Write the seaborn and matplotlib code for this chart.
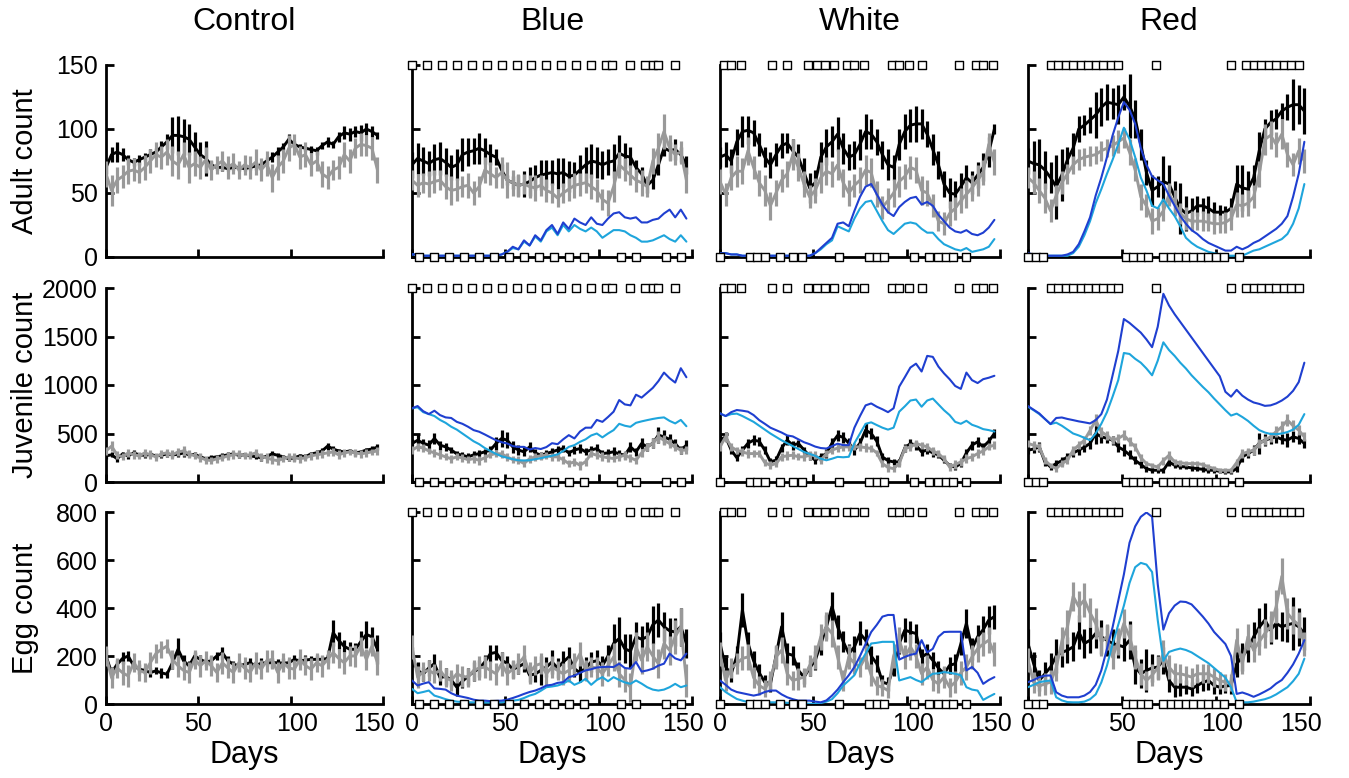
import matplotlib
matplotlib.use("Agg")
import matplotlib.pyplot as plt
import matplotlib.transforms as mtransforms
import seaborn as sns
import numpy as np
import pandas as pd

# sampling days (every 3 days)
days = np.arange(0, 150, 3)

columns = ["Control", "Blue", "White", "Red"]
row_labels = ["Adult count", "Juvenile count", "Egg count"]
row_max = [150, 2000, 800]
row_ticks = [[0, 50, 100, 150], [0, 500, 1000, 1500, 2000], [0, 200, 400, 600, 800]]

# ---------------- adult ----------------
adult_control_black = [70, 80, 82, 80, 76, 74, 76, 78, 80, 82, 86, 90, 95, 95, 94, 92, 86, 80, 77, 72,
                       70, 70, 69, 70, 70, 69, 70, 71, 72, 75, 78, 82, 86, 92, 88, 86, 85, 84, 83, 87,
                       90, 88, 94, 97, 96, 98, 97, 100, 98, 95]
adult_control_black_err = [5, 6, 8, 5, 4, 3, 4, 3, 4, 3, 5, 6, 14, 15, 14, 12, 12, 10, 14, 3,
                           2, 3, 2, 2, 3, 2, 2, 3, 2, 3, 4, 4, 3, 4, 3, 2, 2, 3, 3, 3,
                           4, 3, 4, 5, 5, 4, 6, 5, 4, 3]
adult_control_gray = [65, 52, 60, 63, 67, 68, 66, 70, 75, 80, 78, 82, 75, 72, 80, 70, 73, 70, 76, 68,
                      72, 75, 70, 73, 68, 72, 70, 74, 68, 73, 62, 70, 75, 85, 88, 78, 80, 72, 75, 65,
                      62, 68, 70, 80, 75, 85, 88, 87, 85, 68]
adult_control_gray_err = [10, 12, 10, 9, 10, 9, 8, 10, 9, 10, 9, 10, 12, 11, 10, 12, 10, 9, 10, 8,
                          7, 8, 9, 8, 7, 8, 9, 10, 9, 10, 11, 10, 9, 10, 8, 9, 10, 9, 8, 10,
                          9, 8, 9, 10, 9, 8, 9, 8, 9, 10]

adult_blue_black = [72, 77, 75, 73, 76, 77, 74, 70, 72, 80, 82, 83, 85, 83, 80, 78, 68, 60, 58, 56,
                    57, 59, 62, 64, 65, 66, 65, 66, 63, 64, 68, 72, 75, 74, 72, 74, 75, 81, 79, 78,
                    70, 65, 56, 60, 72, 85, 83, 84, 80, 72]
adult_blue_black_err = [10, 12, 11, 10, 12, 13, 11, 10, 12, 13, 11, 10, 12, 10, 8, 6, 5, 4, 5, 8,
                        10, 11, 10, 12, 11, 10, 12, 11, 12, 10, 12, 14, 13, 12, 11, 10, 13, 14, 10, 8,
                        6, 5, 6, 7, 8, 6, 7, 8, 6, 7]
adult_blue_gray = [60, 56, 58, 57, 59, 60, 55, 52, 53, 55, 56, 50, 55, 68, 65, 62, 66, 60, 58, 56,
                   57, 55, 54, 56, 52, 50, 46, 50, 53, 56, 57, 58, 55, 52, 45, 42, 55, 72, 68, 64,
                   60, 58, 55, 75, 85, 98, 85, 80, 82, 60]
adult_blue_gray_err = [8, 9, 8, 10, 9, 8, 10, 11, 9, 8, 10, 9, 8, 10, 9, 8, 12, 14, 10, 9,
                       8, 9, 10, 8, 9, 8, 7, 8, 9, 10, 9, 8, 10, 9, 8, 10, 12, 10, 9, 8,
                       9, 10, 8, 10, 12, 14, 10, 8, 9, 10]
adult_blue_model = [2, 2, 1, 1, 1, 1, 1, 1, 1, 1, 1, 1, 1, 1, 1, 1, 2, 4, 8, 6,
                    13, 9, 17, 13, 21, 25, 18, 27, 22, 30, 27, 25, 31, 26, 25, 30, 34, 35, 31, 30,
                    31, 27, 27, 29, 30, 34, 37, 31, 37, 30]
adult_blue_model2 = [2, 2, 1, 1, 1, 1, 1, 1, 1, 1, 1, 1, 1, 1, 1, 1, 2, 4, 7, 6,
                     12, 9, 16, 12, 20, 23, 17, 25, 20, 25, 22, 20, 23, 20, 15, 18, 21, 21, 20, 17,
                     15, 12, 12, 13, 15, 17, 14, 12, 17, 12]

adult_white_black = [78, 80, 75, 90, 98, 99, 97, 88, 78, 72, 80, 87, 89, 83, 78, 66, 54, 58, 78, 86,
                     90, 96, 85, 78, 80, 88, 98, 96, 90, 80, 72, 70, 88, 98, 103, 104, 104, 96, 84, 72,
                     57, 50, 49, 55, 62, 58, 64, 70, 82, 100]
adult_white_black_err = [8, 10, 9, 10, 12, 11, 10, 9, 8, 10, 9, 10, 8, 9, 10, 11, 12, 10, 12, 14,
                         12, 13, 12, 10, 11, 12, 14, 12, 10, 11, 12, 10, 12, 14, 13, 14, 12, 10, 12, 11,
                         10, 12, 10, 11, 10, 9, 10, 11, 12, 4]
adult_white_gray = [59, 49, 62, 67, 67, 83, 70, 58, 52, 40, 50, 60, 65, 80, 70, 57, 47, 52, 62, 67,
                    65, 72, 58, 50, 56, 60, 68, 66, 49, 39, 44, 50, 59, 63, 70, 68, 52, 50, 40, 28,
                    26, 34, 38, 44, 49, 54, 60, 66, 88, 74]
adult_white_gray_err = [10, 9, 10, 12, 10, 11, 9, 10, 12, 11, 10, 9, 10, 12, 11, 10, 9, 10, 12, 11,
                        10, 12, 11, 10, 9, 10, 12, 11, 10, 9, 10, 11, 12, 10, 9, 10, 11, 10, 9, 8,
                        9, 10, 9, 10, 11, 10, 12, 10, 9, 10]
adult_white_model = [3, 3, 2, 2, 1, 1, 1, 1, 1, 1, 1, 1, 1, 1, 1, 1, 1, 3, 7, 11,
                     15, 26, 27, 24, 36, 47, 55, 57, 49, 41, 35, 32, 39, 43, 46, 47, 41, 43, 40, 33,
                     28, 23, 20, 19, 21, 18, 17, 19, 23, 29]
adult_white_model2 = [3, 3, 2, 2, 1, 1, 1, 1, 1, 1, 1, 1, 1, 1, 1, 1, 1, 3, 6, 10,
                      13, 24, 22, 20, 30, 38, 43, 44, 36, 28, 21, 18, 22, 26, 27, 26, 22, 19, 19, 14,
                      10, 8, 6, 5, 7, 4, 5, 6, 8, 14]

adult_red_black = [75, 73, 72, 68, 62, 55, 64, 76, 85, 100, 103, 107, 111, 117, 121, 120, 119, 125, 118, 108,
                   88, 66, 52, 55, 59, 57, 47, 38, 34, 36, 40, 40, 38, 35, 35, 35, 38, 57, 54, 53,
                   62, 83, 100, 105, 108, 114, 117, 119, 119, 114]
adult_red_black_err = [10, 18, 20, 15, 12, 25, 20, 10, 12, 10, 8, 10, 18, 15, 14, 12, 15, 10, 25, 15,
                       12, 10, 12, 8, 20, 15, 12, 20, 14, 10, 8, 6, 10, 8, 6, 5, 8, 15, 18, 14,
                       10, 15, 8, 10, 8, 6, 10, 20, 15, 18]
adult_red_gray = [62, 58, 52, 46, 36, 48, 58, 65, 72, 76, 78, 79, 80, 83, 85, 87, 90, 93, 82, 68,
                  47, 40, 28, 30, 36, 49, 42, 34, 30, 28, 28, 28, 27, 26, 26, 27, 30, 41, 40, 42,
                  47, 65, 92, 95, 88, 96, 80, 72, 83, 75]
adult_red_gray_err = [8, 9, 10, 12, 9, 8, 9, 8, 7, 8, 7, 8, 7, 8, 7, 8, 9, 8, 10, 9,
                      10, 9, 10, 9, 8, 9, 10, 8, 9, 8, 7, 8, 7, 8, 7, 8, 9, 10, 9, 10,
                      9, 10, 12, 11, 10, 12, 10, 9, 10, 9]
adult_red_model = [3, 2, 1, 1, 1, 1, 1, 2, 4, 10, 20, 31, 48, 62, 78, 95, 109, 121, 115, 104,
                   85, 72, 63, 60, 57, 48, 40, 32, 26, 21, 18, 14, 11, 9, 7, 5, 5, 8, 6, 8,
                   11, 13, 16, 19, 22, 26, 32, 47, 65, 90]
adult_red_model2 = [2, 1, 1, 1, 1, 1, 1, 1, 3, 8, 17, 28, 42, 53, 65, 76, 88, 101, 92, 78,
                    62, 52, 40, 38, 45, 38, 32, 24, 15, 11, 8, 6, 4, 3, 2, 1, 1, 1, 1, 3,
                    5, 6, 8, 10, 12, 14, 18, 26, 38, 57]

# ---------------- juvenile ----------------
juv_control_black = [270, 280, 240, 290, 270, 300, 280, 275, 285, 270, 275, 290, 280, 285, 300, 280, 285, 260, 240, 250,
                     260, 270, 280, 290, 275, 280, 270, 260, 250, 265, 290, 275, 260, 240, 250, 270, 260, 290, 300, 320,
                     370, 340, 320, 310, 320, 300, 310, 330, 340, 360]
juv_control_black_err = [30, 25, 35, 20, 30, 25, 20, 30, 25, 20, 25, 30, 20, 25, 40, 25, 20, 25, 20, 25,
                         20, 25, 30, 20, 25, 20, 25, 20, 30, 25, 30, 25, 20, 25, 30, 20, 25, 20, 25, 30,
                         35, 30, 25, 20, 25, 30, 25, 20, 30, 35]
juv_control_gray = [320, 370, 280, 260, 300, 280, 270, 300, 280, 260, 290, 300, 280, 310, 320, 290, 270, 250, 230, 220,
                    240, 250, 270, 280, 290, 270, 280, 300, 260, 250, 230, 220, 240, 260, 250, 240, 250, 270, 280, 290,
                    300, 310, 280, 300, 310, 300, 290, 300, 310, 320]
juv_control_gray_err = [40, 50, 40, 35, 45, 40, 35, 40, 45, 40, 35, 40, 45, 40, 50, 40, 35, 45, 40, 35,
                        40, 35, 40, 45, 40, 35, 40, 45, 40, 50, 45, 40, 35, 40, 45, 40, 35, 40, 45, 40,
                        35, 40, 45, 40, 35, 40, 45, 40, 35, 40]

juv_blue_black = [397, 430, 400, 380, 449, 380, 362, 330, 290, 276, 259, 280, 293, 311, 328, 397, 449, 431, 362, 330,
                  311, 362, 300, 276, 293, 311, 330, 345, 300, 330, 345, 311, 330, 345, 293, 300, 311, 290, 276, 362,
                  311, 397, 362, 400, 483, 466, 440, 397, 328, 380]
juv_blue_black_err = [50, 60, 45, 50, 55, 45, 40, 35, 30, 30, 35, 40, 35, 30, 45, 70, 90, 80, 60, 50,
                      45, 55, 40, 35, 40, 35, 45, 40, 35, 40, 45, 35, 40, 45, 35, 40, 45, 40, 35, 50,
                      40, 55, 45, 50, 80, 70, 60, 45, 40, 50]
juv_blue_gray = [328, 362, 350, 320, 300, 280, 259, 240, 259, 250, 230, 240, 224, 250, 280, 293, 290, 259, 230, 224,
                 190, 240, 259, 270, 276, 260, 259, 230, 190, 207, 172, 210, 293, 276, 260, 250, 242, 260, 276, 250,
                 224, 300, 362, 400, 466, 430, 397, 360, 328, 328]
juv_blue_gray_err = [40, 45, 40, 35, 40, 45, 35, 40, 35, 40, 35, 40, 45, 40, 35, 40, 45, 40, 35, 40,
                     35, 40, 45, 40, 35, 40, 45, 40, 35, 40, 45, 40, 35, 40, 45, 40, 35, 40, 45, 40,
                     35, 40, 45, 50, 60, 50, 45, 40, 35, 40]
juv_blue_model = [760, 783, 730, 700, 735, 690, 666, 660, 620, 600, 570, 535, 518, 490, 460, 431, 410, 397, 370, 362,
                  362, 335, 350, 340, 360, 400, 390, 440, 483, 449, 520, 560, 560, 640, 620, 670, 725, 845, 800, 790,
                  900, 870, 920, 970, 1040, 1128, 1070, 1025, 1173, 1080]
juv_blue_model2 = [760, 770, 720, 700, 680, 640, 610, 570, 540, 500, 460, 420, 390, 350, 320, 290, 265, 250, 235, 224,
                   222, 224, 235, 245, 259, 270, 285, 320, 362, 380, 414, 440, 480, 500, 460, 500, 535, 600, 580, 569,
                   610, 625, 638, 650, 660, 666, 630, 604, 640, 575]

juv_white_black = [431, 466, 330, 250, 328, 400, 431, 420, 328, 210, 224, 350, 431, 380, 397, 330, 270, 224, 260, 293,
                   400, 480, 460, 400, 328, 400, 535, 500, 420, 259, 220, 207, 207, 350, 397, 380, 311, 330, 300, 280,
                   224, 170, 155, 190, 300, 380, 414, 362, 420, 500]
juv_white_black_err = [50, 45, 40, 35, 40, 45, 50, 45, 40, 35, 40, 45, 50, 45, 40, 35, 40, 35, 40, 45,
                       50, 60, 55, 50, 45, 50, 70, 60, 50, 40, 35, 30, 35, 45, 50, 45, 40, 45, 40, 35,
                       30, 25, 30, 35, 40, 45, 50, 45, 40, 45]
juv_white_gray = [362, 466, 360, 328, 310, 293, 293, 293, 200, 172, 190, 259, 270, 276, 260, 259, 276, 276, 224, 293,
                  328, 350, 362, 362, 362, 362, 355, 345, 300, 190, 150, 138, 190, 345, 360, 397, 380, 362, 320, 293,
                  240, 155, 180, 207, 240, 259, 293, 320, 362, 380]
juv_white_gray_err = [40, 50, 40, 35, 40, 45, 35, 40, 35, 40, 35, 40, 45, 40, 35, 40, 45, 40, 35, 40,
                      35, 40, 45, 40, 35, 40, 45, 40, 35, 40, 45, 40, 35, 40, 45, 40, 35, 40, 45, 40,
                      35, 40, 45, 40, 45, 40, 45, 40, 35, 40]
juv_white_model = [707, 680, 720, 742, 735, 725, 690, 638, 600, 560, 535, 510, 480, 470, 440, 410, 390, 365, 350, 345,
                   370, 395, 380, 380, 560, 680, 790, 810, 776, 750, 720, 760, 983, 1080, 1180, 1220, 1139, 1300, 1290, 1190,
                   1120, 1060, 990, 960, 1128, 1050, 1020, 1060, 1075, 1095]
juv_white_model2 = [707, 680, 700, 705, 680, 650, 620, 580, 540, 500, 465, 430, 400, 370, 340, 310, 290, 270, 240, 224,
                    240, 259, 255, 260, 400, 500, 600, 615, 587, 560, 540, 560, 725, 780, 840, 850, 776, 840, 860, 800,
                    740, 690, 620, 600, 631, 590, 570, 545, 535, 520]

juv_red_black = [328, 340, 362, 207, 155, 190, 220, 259, 300, 328, 360, 397, 500, 466, 450, 431, 362, 328, 280, 224,
                 180, 138, 121, 121, 121, 207, 172, 160, 155, 145, 138, 130, 121, 121, 110, 104, 104, 138, 259, 293,
                 328, 400, 431, 450, 466, 440, 431, 466, 449, 397]
juv_red_black_err = [40, 45, 50, 40, 30, 35, 40, 35, 40, 45, 50, 60, 110, 60, 50, 45, 50, 60, 45, 40,
                     35, 30, 30, 25, 25, 40, 30, 25, 25, 30, 25, 30, 25, 25, 20, 25, 25, 40, 50, 45,
                     50, 110, 60, 55, 60, 50, 70, 55, 60, 45]
juv_red_gray = [397, 380, 362, 224, 170, 138, 190, 224, 328, 380, 431, 530, 638, 518, 480, 431, 450, 483, 420, 362,
                250, 190, 170, 155, 220, 276, 207, 200, 190, 190, 190, 180, 155, 140, 121, 121, 121, 200, 293, 310,
                328, 397, 430, 466, 520, 569, 638, 580, 535, 466]
juv_red_gray_err = [40, 45, 40, 35, 30, 30, 35, 40, 45, 40, 45, 50, 60, 50, 45, 40, 45, 50, 45, 40,
                    35, 30, 30, 30, 40, 45, 35, 30, 30, 30, 30, 30, 30, 25, 25, 25, 25, 40, 45, 40,
                    45, 50, 45, 50, 55, 60, 65, 55, 50, 45]
juv_red_model = [783, 745, 707, 650, 597, 660, 665, 650, 638, 625, 615, 604, 638, 700, 850, 1100, 1350, 1680, 1640, 1590,
                 1540, 1470, 1390, 1600, 1940, 1820, 1730, 1650, 1570, 1490, 1410, 1330, 1250, 1170, 1090, 930, 880, 950, 890, 850,
                 820, 805, 785, 790, 810, 840, 880, 940, 1030, 1230]
juv_red_model2 = [776, 740, 700, 650, 597, 612, 580, 540, 500, 480, 455, 431, 500, 600, 720, 880, 1050, 1330, 1320, 1270,
                  1230, 1170, 1100, 1250, 1440, 1360, 1300, 1230, 1170, 1100, 1040, 980, 925, 860, 800, 740, 685, 705, 670, 630,
                  580, 535, 510, 495, 493, 500, 515, 540, 590, 700]

# ---------------- eggs ----------------
egg_control_black = [200, 131, 165, 190, 200, 159, 145, 140, 131, 138, 130, 124, 172, 228, 180, 159, 200, 186, 175, 180,
                     200, 214, 180, 166, 159, 165, 172, 159, 170, 172, 172, 172, 170, 172, 186, 179, 183, 186, 186, 186,
                     190, 297, 265, 240, 228, 228, 260, 290, 280, 228]
egg_control_black_err = [30, 25, 20, 25, 20, 15, 20, 15, 20, 15, 20, 15, 25, 45, 25, 20, 15, 20, 15, 20,
                         15, 25, 20, 15, 20, 15, 20, 15, 20, 15, 20, 15, 20, 15, 20, 15, 20, 15, 20, 15,
                         20, 55, 35, 25, 30, 25, 45, 55, 40, 60]
egg_control_gray = [200, 110, 150, 130, 117, 172, 140, 131, 172, 210, 228, 241, 186, 159, 140, 131, 186, 159, 180, 160,
                    131, 172, 150, 131, 172, 150, 131, 172, 145, 180, 186, 131, 172, 150, 145, 186, 160, 145, 172, 159,
                    186, 214, 190, 172, 200, 200, 241, 186, 241, 172]
egg_control_gray_err = [40, 45, 40, 50, 45, 40, 45, 40, 45, 40, 35, 30, 40, 45, 40, 45, 40, 45, 40, 45,
                        40, 45, 40, 45, 40, 45, 40, 45, 40, 45, 40, 45, 40, 45, 40, 45, 40, 45, 40, 45,
                        40, 45, 40, 45, 40, 45, 40, 45, 40, 50]

egg_blue_black = [196, 140, 125, 150, 168, 110, 115, 100, 70, 95, 115, 135, 147, 175, 210, 215, 182, 170, 145, 155,
                  168, 120, 125, 140, 154, 175, 150, 175, 196, 147, 130, 150, 175, 180, 160, 200, 252, 273, 230, 220,
                  280, 270, 280, 330, 350, 322, 305, 300, 322, 252]
egg_blue_black_err = [40, 35, 30, 35, 40, 30, 35, 30, 35, 30, 35, 40, 35, 30, 35, 30, 35, 30, 35, 30,
                      35, 30, 35, 60, 40, 50, 40, 45, 40, 35, 40, 45, 40, 45, 40, 45, 80, 90, 60, 70,
                      60, 55, 60, 80, 70, 60, 55, 60, 80, 60]
egg_blue_gray = [238, 112, 135, 140, 126, 140, 110, 98, 126, 115, 112, 140, 150, 154, 140, 126, 168, 126, 145, 168,
                 196, 130, 160, 168, 126, 154, 140, 126, 140, 168, 210, 140, 154, 150, 126, 160, 196, 126, 100, 70,
                 238, 182, 238, 200, 168, 252, 224, 280, 322, 98]
egg_blue_gray_err = [50, 45, 40, 45, 40, 45, 40, 45, 40, 45, 40, 45, 50, 45, 40, 45, 50, 45, 40, 45,
                     50, 45, 40, 45, 50, 45, 40, 45, 50, 45, 50, 45, 40, 45, 50, 45, 60, 55, 50, 60,
                     60, 55, 60, 55, 60, 65, 60, 70, 80, 70]
egg_blue_model = [98, 77, 85, 91, 65, 63, 60, 45, 35, 30, 25, 18, 14, 14, 12, 13, 14, 18, 25, 33,
                  42, 50, 56, 65, 77, 80, 88, 91, 112, 118, 130, 140, 145, 152, 154, 155, 154, 168, 150, 147,
                  175, 135, 140, 147, 160, 168, 210, 190, 182, 210]
egg_blue_model2 = [63, 45, 50, 56, 35, 28, 20, 14, 10, 8, 7, 7, 6, 6, 6, 7, 7, 10, 14, 17,
                   25, 35, 42, 55, 70, 73, 77, 85, 98, 80, 90, 105, 80, 100, 112, 95, 112, 100, 90, 84,
                   98, 85, 70, 60, 56, 60, 70, 84, 70, 77]

egg_white_black = [252, 154, 126, 200, 392, 252, 180, 130, 91, 84, 200, 322, 210, 203, 140, 112, 150, 182, 250, 322,
                   406, 322, 260, 210, 238, 294, 266, 200, 168, 91, 84, 150, 252, 308, 300, 294, 196, 210, 182, 150,
                   126, 161, 168, 250, 336, 230, 280, 310, 350, 364]
egg_white_black_err = [50, 40, 35, 40, 70, 50, 40, 35, 30, 35, 40, 60, 45, 40, 35, 30, 35, 40, 45, 50,
                       60, 50, 45, 40, 45, 50, 45, 40, 35, 30, 30, 35, 45, 50, 45, 40, 35, 40, 35, 30,
                       30, 35, 40, 45, 60, 45, 50, 55, 60, 50]
egg_white_gray = [210, 98, 150, 168, 190, 196, 110, 77, 63, 98, 196, 224, 126, 98, 105, 112, 160, 196, 280, 322,
                  294, 196, 98, 196, 170, 154, 196, 120, 77, 70, 56, 200, 266, 196, 238, 200, 126, 154, 100, 84,
                  112, 70, 91, 130, 154, 196, 230, 250, 266, 210]
egg_white_gray_err = [50, 45, 40, 45, 50, 55, 45, 40, 35, 40, 50, 55, 45, 40, 45, 40, 45, 50, 55, 60,
                      55, 50, 45, 50, 45, 40, 50, 45, 40, 35, 30, 50, 55, 50, 55, 50, 45, 50, 45, 40,
                      45, 40, 45, 50, 55, 50, 55, 50, 55, 50]
egg_white_model = [98, 80, 60, 50, 45, 40, 35, 40, 50, 56, 56, 40, 28, 20, 14, 14, 14, 10, 7, 15,
                   35, 60, 91, 120, 154, 200, 250, 300, 330, 364, 371, 371, 185, 196, 205, 210, 266, 215, 230, 280,
                   300, 301, 301, 301, 140, 154, 130, 84, 100, 112]
egg_white_model2 = [70, 50, 35, 21, 14, 8, 7, 7, 7, 7, 7, 6, 5, 4, 3, 2, 1, 1, 4, 10,
                    20, 45, 77, 98, 120, 170, 210, 252, 255, 259, 259, 259, 98, 105, 112, 100, 91, 110, 126, 128,
                    133, 130, 126, 120, 70, 60, 56, 17, 30, 42]

egg_red_black = [252, 168, 98, 126, 154, 200, 215, 224, 238, 300, 252, 266, 294, 280, 266, 252, 245, 238, 266, 154,
                 126, 140, 150, 154, 182, 98, 70, 70, 70, 63, 77, 90, 98, 77, 70, 75, 77, 168, 196, 230,
                 280, 320, 350, 308, 336, 322, 330, 336, 322, 294]
egg_red_black_err = [60, 50, 45, 50, 60, 70, 60, 55, 60, 70, 60, 55, 60, 70, 65, 60, 55, 60, 80, 70,
                     60, 90, 60, 50, 55, 50, 40, 35, 30, 30, 30, 35, 40, 35, 30, 30, 35, 55, 60, 55,
                     60, 80, 70, 60, 65, 60, 70, 110, 80, 70]
egg_red_gray = [182, 90, 75, 84, 91, 150, 260, 322, 448, 406, 434, 380, 336, 260, 280, 196, 260, 336, 280, 196,
                126, 98, 120, 150, 210, 154, 126, 126, 120, 112, 126, 126, 126, 112, 98, 91, 91, 266, 168, 280,
                224, 260, 294, 322, 406, 532, 378, 350, 330, 252]
egg_red_gray_err = [50, 45, 40, 45, 50, 55, 60, 70, 60, 65, 70, 60, 65, 60, 55, 50, 55, 60, 55, 50,
                    45, 40, 45, 50, 55, 50, 45, 40, 40, 40, 40, 40, 40, 40, 35, 35, 35, 50, 45, 55,
                    50, 55, 60, 65, 70, 75, 65, 60, 55, 50]
egg_red_model = [91, 100, 112, 118, 119, 49, 35, 28, 28, 28, 35, 50, 80, 140, 230, 320, 430, 540, 672, 740,
                 780, 798, 780, 500, 310, 378, 410, 427, 425, 415, 390, 364, 335, 300, 275, 250, 200, 42, 48, 40,
                 30, 40, 52, 65, 85, 100, 130, 165, 210, 266]
egg_red_model2 = [70, 80, 91, 95, 98, 28, 15, 8, 7, 7, 10, 20, 40, 90, 160, 250, 330, 410, 504, 570,
                  588, 581, 550, 350, 180, 217, 225, 231, 225, 215, 200, 185, 170, 150, 130, 110, 70, 7, 7, 7,
                  10, 15, 20, 28, 40, 55, 70, 95, 126, 189]

# ---------------- sampling-day squares ----------------
blue_top = [0, 8, 16, 24, 32, 40, 48, 56, 64, 72, 80, 88, 96, 104, 107, 117, 125, 129, 132, 141]
blue_bottom = [4, 12, 20, 28, 36, 44, 52, 60, 68, 76, 84, 92, 112, 120, 136, 144]
white_top = [2, 6, 11, 28, 36, 47, 52, 56, 61, 68, 72, 77, 92, 96, 101, 108, 128, 137, 141, 146]
white_bottom = [0, 16, 20, 24, 32, 39, 44, 64, 80, 84, 88, 104, 112, 117, 121, 125, 132]
red_top = [12, 16, 20, 24, 28, 32, 36, 40, 44, 48, 68, 108, 116, 120, 124, 128, 132, 136, 140, 144]
red_bottom = [0, 4, 8, 52, 56, 60, 64, 72, 76, 80, 84, 88, 92, 96, 100, 104, 112]

panels = [
    [(adult_control_black, adult_control_black_err, adult_control_gray, adult_control_gray_err, None, None),
     (adult_blue_black, adult_blue_black_err, adult_blue_gray, adult_blue_gray_err, adult_blue_model, adult_blue_model2),
     (adult_white_black, adult_white_black_err, adult_white_gray, adult_white_gray_err, adult_white_model, adult_white_model2),
     (adult_red_black, adult_red_black_err, adult_red_gray, adult_red_gray_err, adult_red_model, adult_red_model2)],
    [(juv_control_black, juv_control_black_err, juv_control_gray, juv_control_gray_err, None, None),
     (juv_blue_black, juv_blue_black_err, juv_blue_gray, juv_blue_gray_err, juv_blue_model, juv_blue_model2),
     (juv_white_black, juv_white_black_err, juv_white_gray, juv_white_gray_err, juv_white_model, juv_white_model2),
     (juv_red_black, juv_red_black_err, juv_red_gray, juv_red_gray_err, juv_red_model, juv_red_model2)],
    [(egg_control_black, egg_control_black_err, egg_control_gray, egg_control_gray_err, None, None),
     (egg_blue_black, egg_blue_black_err, egg_blue_gray, egg_blue_gray_err, egg_blue_model, egg_blue_model2),
     (egg_white_black, egg_white_black_err, egg_white_gray, egg_white_gray_err, egg_white_model, egg_white_model2),
     (egg_red_black, egg_red_black_err, egg_red_gray, egg_red_gray_err, egg_red_model, egg_red_model2)],
]
squares = [None, (blue_top, blue_bottom), (white_top, white_bottom), (red_top, red_bottom)]

BLACK = "#000000"
GRAY = "#999999"
DARK_BLUE = "#1f3fd0"
LIGHT_BLUE = "#1ea5dc"

sns.set_style("ticks")
plt.rcParams['font.family'] = ['Liberation Sans', 'DejaVu Sans']
plt.rcParams.update({"text.color": "black", "axes.labelcolor": "black",
                     "xtick.color": "black", "ytick.color": "black",
                     "axes.edgecolor": "black"})

W, H = 1349, 778
fig = plt.figure(figsize=(W / 100, H / 100), dpi=100)

col_left = [106, 412, 720, 1028]
col_width = [277, 280, 280, 282]
row_top = [65, 288, 512]
row_bottom = [257, 482, 704]

for r in range(3):
    for c in range(4):
        ax = fig.add_axes([col_left[c] / W, 1 - row_bottom[r] / H,
                           col_width[c] / W, (row_bottom[r] - row_top[r]) / H])
        black, black_err, gray, gray_err, model, model2 = panels[r][c]
        black = np.array(black); gray = np.array(gray)
        black_err = np.array(black_err); gray_err = np.array(gray_err)

        # error bars
        ax.vlines(days, black - black_err, black + black_err, color=BLACK, lw=2.3, zorder=3)
        ax.vlines(days, gray - gray_err, gray + gray_err, color=GRAY, lw=2.3, zorder=4)

        sns.lineplot(x=days, y=black, color=BLACK, lw=2.1, ax=ax, zorder=3)
        sns.lineplot(x=days, y=gray, color=GRAY, lw=2.1, ax=ax, zorder=4)
        if model is not None:
            sns.lineplot(x=days, y=model2, color=LIGHT_BLUE, lw=1.5, ax=ax, zorder=5)
            sns.lineplot(x=days, y=model, color=DARK_BLUE, lw=1.5, ax=ax, zorder=5)

        if squares[c] is not None:
            top, bottom = squares[c]
            sns.scatterplot(x=top, y=[row_max[r]] * len(top), marker='s', s=36, color='white',
                            edgecolor='black', linewidth=1.0, clip_on=False, zorder=10, ax=ax)
            sns.scatterplot(x=bottom, y=[0] * len(bottom), marker='s', s=36, color='white',
                            edgecolor='black', linewidth=1.0, clip_on=False, zorder=10, ax=ax)

        ax.set_xlim(0, 150)
        ax.set_ylim(0, row_max[r])
        ax.set_xticks([0, 50, 100, 150])
        ax.set_yticks(row_ticks[r])
        ax.tick_params(direction='in', length=6, width=2, labelsize=18, pad=6)
        if c > 0:
            ax.set_yticklabels([])
        if r < 2:
            ax.set_xticklabels([])
        else:
            # small horizontal nudges of the day labels, as in the original
            for lab, dx in zip(ax.get_xticklabels(), [0, 0, 6, -9]):
                lab.set_transform(lab.get_transform() +
                                  mtransforms.ScaledTranslation(dx / 100, 0, fig.dpi_scale_trans))
        ax.set_xlabel("")
        ax.set_ylabel("")
        sns.despine(ax=ax)
        for s in ["left", "bottom"]:
            ax.spines[s].set_linewidth(2)

for c, name in enumerate(columns):
    cx = (col_left[c] + col_width[c] / 2) / W
    fig.text(cx, 1 - 22 / H, name, ha='center', va='center', fontsize=23)
    fig.text(cx, 1 - 755 / H, "Days", ha='center', va='center', fontsize=22)

for r, lab in enumerate(row_labels):
    cy = 1 - (row_top[r] + row_bottom[r]) / 2 / H
    fig.text(25 / W, cy, lab, rotation=90, ha='center', va='center', fontsize=21)

fig.savefig("out.png", dpi=100)
